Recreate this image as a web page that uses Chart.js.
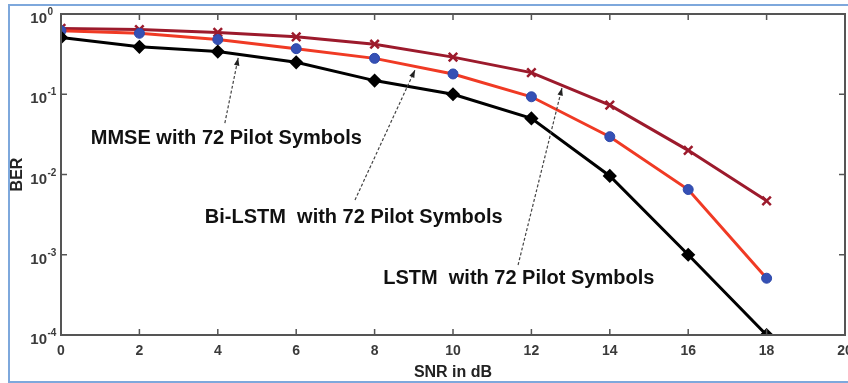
<!DOCTYPE html>
<html>
<head>
<meta charset="utf-8">
<script src="https://cdn.jsdelivr.net/npm/chart.js@4"></script>
<style>
  html, body { margin: 0; padding: 0; background: #fff; }
</style>
</head>
<body>
<canvas id="chart" width="848" height="383"></canvas>
<script>
// SNR (dB) on the x axis
const snr = [0, 2, 4, 6, 8, 10, 12, 14, 16, 18];

// BER
const mmse   = [0.51, 0.39, 0.34, 0.25, 0.148, 0.10, 0.050, 0.0096, 0.0010, 0.0001];
const biLstm = [0.62, 0.575, 0.48, 0.37, 0.28, 0.179, 0.093, 0.0296, 0.0065, 0.00051];
const lstm   = [0.66, 0.64, 0.59, 0.52, 0.42, 0.29, 0.186, 0.073, 0.020, 0.0047];

const xTicks = [0, 2, 4, 6, 8, 10, 12, 14, 16, 18, 20];
const yExponents = [0, -1, -2, -3, -4];

// text notes with dashed arrows (data coordinates)
const noteTexts = ['MMSE with 72 Pilot Symbols', 'Bi-LSTM  with 72 Pilot Symbols', 'LSTM  with 72 Pilot Symbols'];
const noteAt    = [[0.76, 0.024], [3.67, 0.00249], [8.22, 0.000426]];
const arrowFrom = [[4.18, 0.0438], [7.5, 0.00481], [11.66, 0.000745]];
const arrowTo   = [[4.52, 0.283], [9.03, 0.2005], [12.78, 0.1197]];

const FONT = "'Liberation Sans', Arial, sans-serif";
const TICK_COLOR = '#3a3a3a';

function pts(ys) {
  return snr.map((x, i) => ({ x: x, y: ys[i] }));
}

const framePlugin = {
  id: 'frame',
  beforeDraw(chart) {
    const ctx = chart.ctx;
    ctx.save();
    ctx.fillStyle = '#fff';
    ctx.fillRect(0, 0, chart.width, chart.height);
    ctx.strokeStyle = '#7ea8dc';
    ctx.lineWidth = 2;
    ctx.strokeRect(9, 5, chart.width + 10, chart.height - 6);
    ctx.restore();
  },
  afterDraw(chart) {
    const ctx = chart.ctx;
    const a = chart.chartArea;
    const xs = chart.scales.x, ys = chart.scales.y;
    ctx.save();
    ctx.strokeStyle = '#555';
    ctx.lineWidth = 2;
    ctx.strokeRect(a.left, a.top, a.right - a.left, a.bottom - a.top);
    ctx.lineWidth = 1.5;
    ctx.beginPath();
    xTicks.forEach(t => {
      const px = xs.getPixelForValue(t);
      ctx.moveTo(px, a.bottom); ctx.lineTo(px, a.bottom - 6);
      ctx.moveTo(px, a.top); ctx.lineTo(px, a.top + 6);
    });
    yExponents.forEach(e => {
      const py = ys.getPixelForValue(Math.pow(10, e));
      ctx.moveTo(a.left, py); ctx.lineTo(a.left + 6, py);
      ctx.moveTo(a.right, py); ctx.lineTo(a.right - 6, py);
    });
    ctx.stroke();

    // last x label sits on the right edge and gets cut off
    const last = xTicks[xTicks.length - 1];
    ctx.fillStyle = TICK_COLOR;
    ctx.font = 'bold 14px ' + FONT;
    ctx.textAlign = 'center';
    ctx.textBaseline = 'middle';
    ctx.fillText(String(last), xs.getPixelForValue(last), a.bottom + 16.5);

    // y tick labels as 10 with superscript exponent
    yExponents.forEach(e => {
      const py = ys.getPixelForValue(Math.pow(10, e));
      ctx.font = 'bold 15px ' + FONT;
      ctx.textAlign = 'right';
      ctx.textBaseline = 'alphabetic';
      ctx.fillText('10', 47, py + 9);
      ctx.font = 'bold 10px ' + FONT;
      ctx.textAlign = 'left';
      ctx.fillText(e === 0 ? '0' : '-' + Math.abs(e), 47.5, py + 1);
    });
    ctx.restore();
  },
  afterDatasetsDraw(chart) {
    const ctx = chart.ctx;
    const xs = chart.scales.x, ys = chart.scales.y;
    ctx.save();
    noteTexts.forEach((txt, i) => {
      const x0 = xs.getPixelForValue(arrowFrom[i][0]), y0 = ys.getPixelForValue(arrowFrom[i][1]);
      const x1 = xs.getPixelForValue(arrowTo[i][0]),   y1 = ys.getPixelForValue(arrowTo[i][1]);
      ctx.strokeStyle = '#444';
      ctx.lineWidth = 1.2;
      ctx.setLineDash([3, 2]);
      ctx.beginPath();
      ctx.moveTo(x0, y0);
      ctx.lineTo(x1, y1);
      ctx.stroke();
      ctx.setLineDash([]);
      const ang = Math.atan2(y1 - y0, x1 - x0);
      ctx.fillStyle = '#222';
      ctx.beginPath();
      ctx.moveTo(x1, y1);
      ctx.lineTo(x1 - 8 * Math.cos(ang - 0.35), y1 - 8 * Math.sin(ang - 0.35));
      ctx.lineTo(x1 - 8 * Math.cos(ang + 0.35), y1 - 8 * Math.sin(ang + 0.35));
      ctx.closePath();
      ctx.fill();

      ctx.font = 'bold 20px ' + FONT;
      ctx.fillStyle = '#111';
      ctx.textAlign = 'left';
      ctx.textBaseline = 'alphabetic';
      ctx.fillText(txt, xs.getPixelForValue(noteAt[i][0]), ys.getPixelForValue(noteAt[i][1]));
    });
    ctx.restore();
  }
};

new Chart(document.getElementById('chart'), {
  type: 'line',
  data: {
    datasets: [
      {
        label: 'MMSE',
        data: pts(mmse),
        borderColor: '#000',
        backgroundColor: '#000',
        borderWidth: 3,
        pointStyle: 'rectRot',
        pointRadius: 5,
        pointBackgroundColor: '#000',
        pointBorderColor: '#000'
      },
      {
        label: 'Bi-LSTM',
        data: pts(biLstm),
        borderColor: '#f03a24',
        backgroundColor: '#f03a24',
        borderWidth: 3,
        pointStyle: 'circle',
        pointRadius: 5,
        pointBackgroundColor: '#3550b5',
        pointBorderColor: '#2d48aa',
        pointBorderWidth: 1
      },
      {
        label: 'LSTM',
        data: pts(lstm),
        borderColor: '#9c1a2c',
        backgroundColor: '#9c1a2c',
        borderWidth: 3,
        pointStyle: 'crossRot',
        pointRadius: 6,
        pointBorderColor: '#9c1a2c',
        pointBorderWidth: 2.5
      }
    ]
  },
  options: {
    responsive: false,
    animation: false,
    layout: { autoPadding: false, padding: { top: 14, right: 3, left: 0, bottom: 0 } },
    plugins: {
      legend: { display: false },
      tooltip: { enabled: false }
    },
    scales: {
      x: {
        type: 'linear',
        min: 0,
        max: 20,
        grid: { display: false, drawTicks: false },
        border: { display: false },
        ticks: {
          stepSize: 2,
          padding: 8,
          color: TICK_COLOR,
          font: { family: FONT, size: 14, weight: 'bold' },
          // the edge label is drawn by the plugin so it does not push the plot inward
          callback: (v) => (v === xTicks[xTicks.length - 1] ? '' : v)
        },
        title: {
          display: true,
          text: 'SNR in dB',
          color: '#222',
          padding: { top: 0, bottom: 1 },
          font: { family: FONT, size: 16, weight: 'bold' }
        },
        afterFit(scale) {
          scale.height = 48;
          scale.paddingLeft = 0;
          scale.paddingRight = 0;
        }
      },
      y: {
        type: 'logarithmic',
        min: 1e-4,
        max: 1,
        grid: { display: false, drawTicks: false },
        border: { display: false },
        ticks: { display: false },
        afterBuildTicks(scale) {
          scale.ticks = yExponents.map(e => ({ value: Math.pow(10, e) }));
        },
        title: {
          display: true,
          text: 'BER',
          color: '#222',
          padding: { top: 8, bottom: 0 },
          font: { family: FONT, size: 16, weight: 'bold' }
        },
        afterFit(scale) {
          scale.width = 61;
          scale.paddingTop = 0;
          scale.paddingBottom = 0;
        }
      }
    }
  },
  plugins: [framePlugin]
});
</script>
</body>
</html>
